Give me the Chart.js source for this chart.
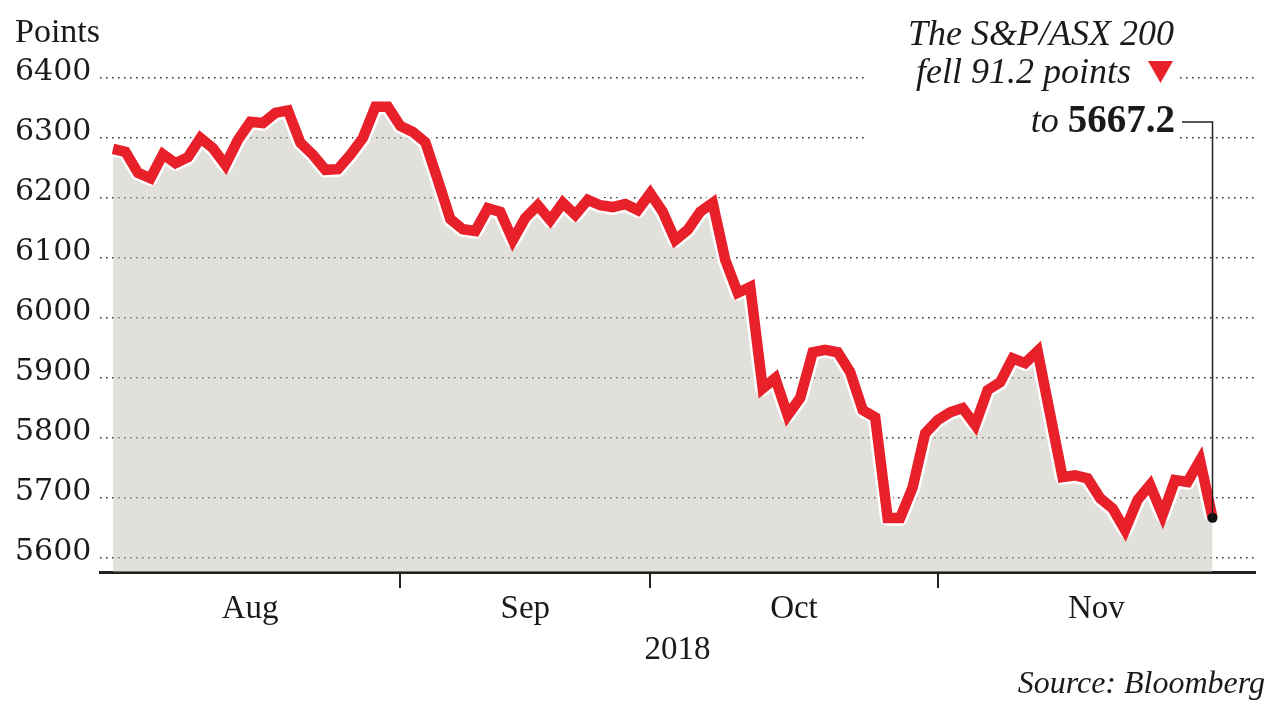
<!DOCTYPE html>
<html>
<head>
<meta charset="utf-8">
<script src="https://cdn.jsdelivr.net/npm/chart.js@4.4.1/dist/chart.umd.min.js"></script>
<style>
  html, body { margin: 0; padding: 0; background: #fff; }
  canvas { display: block; }
</style>
</head>
<body>
<canvas id="grafica" width="1280" height="720"></canvas>
<script>
// S&P/ASX 200 daily close, one value per trading day (Aug - Nov 2018)
const closes = [
  6282, 6277, 6242, 6233, 6273, 6258, 6268, 6300, 6283, 6255,
  6297, 6327, 6325, 6342, 6346, 6292, 6272, 6247, 6248, 6272,
  6300, 6352, 6352, 6320, 6310, 6293, 6230, 6165, 6148, 6145,
  6183, 6177, 6130, 6167, 6188, 6163, 6192, 6172, 6197, 6188,
  6185, 6190, 6180, 6208, 6177, 6130, 6147, 6177, 6192, 6097,
  6042, 6052, 5883, 5900, 5838, 5867, 5943, 5947, 5943, 5910,
  5847, 5835, 5667, 5667, 5718, 5808, 5830, 5843, 5850, 5822,
  5880, 5893, 5933, 5925, 5945, 5840, 5735, 5738, 5733, 5700,
  5683, 5647, 5697, 5722, 5672, 5730, 5727, 5763, 5667.2
];
const monthNames = ['Aug', 'Sep', 'Oct', 'Nov'];
const monthStarts = [23, 43, 66];   // index of first trading day in Sep, Oct, Nov
const yTicks = [5600, 5700, 5800, 5900, 6000, 6100, 6200, 6300, 6400];
const yearLabel = '2018';

const xMin = -1.04, xMax = 91.4;
const yMin = 5577, yMax = 6400;

const points = closes.map((v, i) => ({ x: i, y: v }));
const lastIndex = closes.length - 1;

// month names sit in the middle of each stretch between separators
const bounds = [xMin, ...monthStarts, xMax];
const monthCentres = monthNames.map((m, i) => (bounds[i] + bounds[i + 1]) / 2);

const serif = 'Liberation Serif';

const notas = {
  id: 'notas',
  afterDraw(chart) {
    const c = chart.ctx;
    const px = chart.scales.x.getPixelForValue(lastIndex);
    const py = chart.scales.y.getPixelForValue(closes[lastIndex]);
    c.save();
    // white box behind the annotation hides the dotted lines
    c.fillStyle = '#fff';
    c.fillRect(866, 4, 314, 138);

    c.fillStyle = '#1a1a1a';
    c.textBaseline = 'alphabetic';
    c.textAlign = 'left';
    c.font = `34px "${serif}"`;
    c.fillText('Points', 15, 42);

    c.textAlign = 'right';
    c.font = `italic 36px "${serif}"`;
    c.fillText('The S&P/ASX 200', 1174, 45);
    c.fillText('fell 91.2 points', 1131, 83);

    c.fillStyle = '#e8202a';
    c.beginPath();
    c.moveTo(1148, 61);
    c.lineTo(1173, 61);
    c.lineTo(1160.5, 83);
    c.closePath();
    c.fill();

    c.fillStyle = '#1a1a1a';
    c.font = `bold 39px "${serif}"`;
    c.fillText('5667.2', 1175, 132);
    const w = c.measureText('5667.2').width;
    c.font = `italic 36px "${serif}"`;
    c.fillText('to ', 1175 - w, 132);

    c.strokeStyle = '#222';
    c.lineWidth = 1.5;
    c.beginPath();
    c.moveTo(1182, 122);
    c.lineTo(px, 122);
    c.lineTo(px, py);
    c.stroke();

    c.font = `italic 32px "${serif}"`;
    c.fillText('Source: Bloomberg', 1265, 693);
    c.restore();
  }
};

const data = {
  datasets: [
    {
      data: points,
      borderColor: '#e8202a',
      borderWidth: 10.5,
      fill: false,
      order: 1,
      pointRadius: c => (c.dataIndex === lastIndex ? 5 : 0),
      pointBackgroundColor: '#111',
      pointBorderWidth: 0
    },
    {
      // white halo round the red line
      data: points,
      borderColor: '#ffffff',
      borderWidth: 15.5,
      borderJoinStyle: 'round',
      fill: false,
      order: 2,
      pointRadius: 0
    },
    {
      data: points,
      borderWidth: 0,
      borderColor: 'rgba(0,0,0,0)',
      backgroundColor: 'rgba(196,194,182,0.5)',
      fill: 'start',
      order: 3,
      pointRadius: 0
    }
  ]
};

const config = {
  type: 'line',
  data: data,
  options: {
    responsive: false,
    animation: false,
    events: [],
    layout: { padding: { top: 78, left: 15, right: 25, bottom: 50 } },
    plugins: {
      legend: { display: false },
      tooltip: { enabled: false },
      title: { display: false }
    },
    scales: {
      x: {
        type: 'linear',
        min: xMin,
        max: xMax,
        weight: 0,
        afterBuildTicks: s => { s.ticks = monthStarts.map(v => ({ value: v })); },
        grid: { drawOnChartArea: false, drawTicks: true, tickLength: 16, lineWidth: 2, color: '#222' },
        border: { display: true, width: 3, color: '#222' },
        ticks: { display: false },
        afterFit: s => { s.height = 16; }
      },
      x2: {
        type: 'linear',
        position: 'bottom',
        min: xMin,
        max: xMax,
        weight: 1,
        afterBuildTicks: s => { s.ticks = monthCentres.map(v => ({ value: v })); },
        grid: { display: false, drawTicks: false },
        border: { display: false },
        ticks: {
          padding: 2,
          color: '#1a1a1a',
          maxRotation: 0,
          autoSkip: false,
          font: { family: serif, size: 33 },
          callback: (v, i) => monthNames[i]
        },
        title: {
          display: true,
          text: yearLabel,
          color: '#1a1a1a',
          font: { family: serif, size: 33 },
          padding: { top: 0, bottom: 0 }
        },
        afterFit: s => { s.height = 82; }
      },
      y: {
        min: yMin,
        max: yMax,
        afterBuildTicks: s => { s.ticks = yTicks.map(v => ({ value: v })); },
        grid: { color: '#333', lineWidth: 1.6, drawTicks: false },
        border: { display: false, dash: [1.6, 4.4] },
        ticks: {
          crossAlign: 'far',
          padding: 8,
          labelOffset: -6,
          color: '#1a1a1a',
          font: { family: 'DejaVu Serif', size: 30 },
          callback: v => String(v)
        },
        afterFit: s => { s.width = 85; }
      }
    }
  },
  plugins: [notas]
};

const grafica = new Chart(document.getElementById('grafica').getContext('2d'), config);
</script>
</body>
</html>
